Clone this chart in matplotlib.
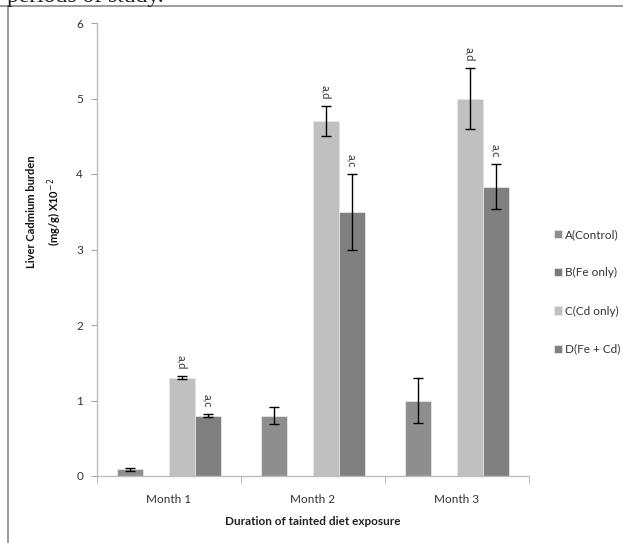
import numpy as np
import matplotlib
matplotlib.use("Agg")
import matplotlib.pyplot as plt
from matplotlib.lines import Line2D

months = ["Month 1", "Month 2", "Month 3"]
groups = ["A(Control)", "B(Fe only)", "C(Cd only)", "D(Fe + Cd)"]
ctrl = [0.09, 0.80, 1.00]
ctrl_err = [0.02, 0.11, 0.30]
fe = [0.0, 0.0, 0.0]
fe_err = [0.0, 0.0, 0.0]
cd = [1.30, 4.70, 5.00]
cd_err = [0.02, 0.20, 0.40]
fecd = [0.80, 3.50, 3.83]
fecd_err = [0.02, 0.50, 0.30]
cd_marks = ["a,d", "a,d", "a,d"]
fecd_marks = ["a,c", "a,c", "a,c"]

colors = ["#8e8e8e", "#7a7a7a", "#c0c0c0", "#808080"]
font = "Lato"

W, H = 623, 543
fig = plt.figure(figsize=(W / 100, H / 100), dpi=100)

# page remnants: cut-off caption text and border lines
fig.text(7 / W, 1 - 2 / H, "periods of study.", family="Liberation Serif",
         fontsize=17, va="baseline", ha="left", color="#222222")
fig.add_artist(Line2D([0, 1], [1 - 6 / H, 1 - 6 / H], color="#8a8a8a", lw=1.2))
fig.add_artist(Line2D([8 / W, 8 / W], [0, 1 - 6 / H], color="#8a8a8a", lw=1.2))

ax = fig.add_axes([97 / W, (H - 476) / H, 432 / W, 453 / H])

x = np.arange(len(months))
w = 0.18
offsets = [-1.5 * w, -0.5 * w, 0.5 * w, 1.5 * w]
series = [(ctrl, ctrl_err), (fe, fe_err), (cd, cd_err), (fecd, fecd_err)]
for i, (vals, errs) in enumerate(series):
    ax.bar(x + offsets[i], vals, w, color=colors[i], edgecolor="#e6e6e6",
           linewidth=0.6, label=groups[i], zorder=2)
    if i != 1:
        ax.errorbar(x + offsets[i], vals, yerr=errs, fmt="none", ecolor="black",
                    elinewidth=1, capsize=3.5, capthick=1, zorder=3)

for j in range(len(months)):
    ax.annotate(cd_marks[j], (x[j] + offsets[2], cd[j] + cd_err[j]),
                xytext=(0, 7), textcoords="offset pixels", rotation=270,
                ha="center", va="bottom", fontsize=8, family=font, color="#333333")
    ax.annotate(fecd_marks[j], (x[j] + offsets[3], fecd[j] + fecd_err[j]),
                xytext=(0, 7), textcoords="offset pixels", rotation=270,
                ha="center", va="bottom", fontsize=8, family=font, color="#333333")

ax.set_xlim(-0.5, 2.5)
ax.set_ylim(0, 6)
ax.set_yticks(range(7))
ax.set_xticks(x)
ax.set_xticklabels(months, family=font, fontsize=8.5, color="#333333")
ax.set_xticks([-0.5, 0.5, 1.5, 2.5], minor=True)
ax.tick_params(axis="x", which="major", length=0, pad=13)
ax.tick_params(axis="x", which="minor", length=5, color="#a6a6a6", direction="out")
ax.tick_params(axis="y", length=4, color="#a6a6a6", direction="out", pad=6,
               labelsize=8.5, labelcolor="#333333")
for lab in ax.get_yticklabels():
    lab.set_family(font)
for s in ["top", "right"]:
    ax.spines[s].set_visible(False)
for s in ["left", "bottom"]:
    ax.spines[s].set_color("#bdbdbd")
    ax.spines[s].set_linewidth(1)

ax.set_xlabel("Duration of tainted diet exposure", family=font, fontsize=8.5,
              fontweight="bold", color="#222222", labelpad=8)

fig.text(45 / W, 1 - 212 / H, "Liver Cadmium burden\n(mg/g) X10$^{-2}$",
         rotation=90, ha="center", va="center", multialignment="center",
         family=font, fontsize=8, fontweight="bold", linespacing=1.6,
         color="#111111")

leg = fig.legend(loc="center left", bbox_to_anchor=(543 / W, 1 - 292 / H),
                 frameon=False, prop={"family": font, "size": 8.5},
                 handlelength=0.7, handleheight=0.7, handletextpad=0.3,
                 labelspacing=2.3)
for t in leg.get_texts():
    t.set_color("#333333")

fig.savefig("out.png", dpi=100)
